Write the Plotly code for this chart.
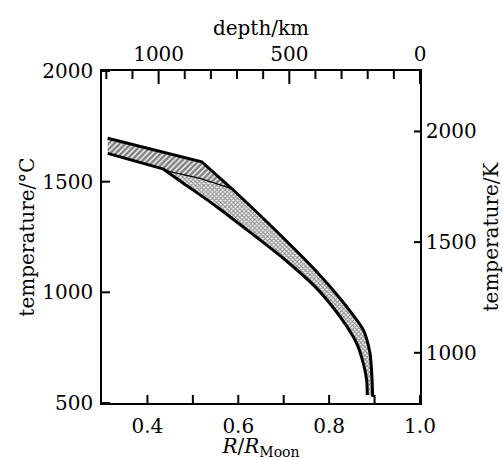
import plotly.graph_objects as go

MOON_RADIUS_KM = 1738.0

# upper envelope (hatched top, then stippled top)
upper_R = [0.3125, 0.5195, 0.5855, 0.6660, 0.7726, 0.8386, 0.8752, 0.8899, 0.8937, 0.8959]
upper_T = [1696, 1590, 1469, 1312, 1093, 935, 830, 725, 634, 528]
# lower envelope (hatched bottom, then stippled bottom)
lower_R = [0.3125, 0.4340, 0.4790, 0.5525, 0.6258, 0.6990, 0.7726, 0.8239, 0.8606, 0.8752, 0.8826, 0.8840]
lower_T = [1628, 1558, 1493, 1387, 1272, 1154, 1018, 890, 770, 679, 604, 536]
# boundary between hatched and stippled regions
div_R = [0.4340, 0.4495, 0.5157, 0.5855]
div_T = [1558, 1545, 1515, 1469]

x_ticks = [0.4, 0.5, 0.6, 0.7, 0.8, 0.9, 1.0]
x_labels = ["0.4", "", "0.6", "", "0.8", "", "1.0"]
y_ticks = [500, 1000, 1500, 2000]
k_ticks = [1000, 1500, 2000]
depth_ticks = [0, 500, 1000]
depth_minor = [100, 200, 300, 400, 600, 700, 800, 900, 1100, 1200]

FONT = "DejaVu Serif"
fig = go.Figure()

# hatched polygon
hx = upper_R[:3] + div_R[::-1][1:] + lower_R[:2][::-1]
hy = upper_T[:3] + div_T[::-1][1:] + lower_T[:2][::-1]
fig.add_trace(go.Scatter(x=hx, y=hy, mode="lines", fill="toself", line=dict(width=0),
                         fillcolor="white",
                         fillpattern=dict(shape="/", size=4, solidity=0.65, fgcolor="black", bgcolor="white"),
                         hoverinfo="skip", showlegend=False))
# stippled polygon
sx = div_R + upper_R[3:] + lower_R[1:][::-1]
sy = div_T + upper_T[3:] + lower_T[1:][::-1]
fig.add_trace(go.Scatter(x=sx, y=sy, mode="lines", fill="toself", line=dict(width=0),
                         fillcolor="white",
                         fillpattern=dict(shape="x", size=3, solidity=0.6, fgcolor="#222", bgcolor="white"),
                         hoverinfo="skip", showlegend=False))

thick = dict(color="black", width=3)
fig.add_trace(go.Scatter(x=upper_R[:3], y=upper_T[:3], mode="lines", line=thick, hoverinfo="skip", showlegend=False))
fig.add_trace(go.Scatter(x=upper_R[2:], y=upper_T[2:], mode="lines",
                         line=dict(color="black", width=3, shape="spline", smoothing=0.7),
                         hoverinfo="skip", showlegend=False))
fig.add_trace(go.Scatter(x=lower_R[:2], y=lower_T[:2], mode="lines", line=thick, hoverinfo="skip", showlegend=False))
fig.add_trace(go.Scatter(x=lower_R[1:], y=lower_T[1:], mode="lines",
                         line=dict(color="black", width=3, shape="spline", smoothing=0.7),
                         hoverinfo="skip", showlegend=False))
fig.add_trace(go.Scatter(x=div_R, y=div_T, mode="lines", line=dict(color="black", width=1.3),
                         hoverinfo="skip", showlegend=False))

# invisible anchor trace for secondary axes (depth / kelvin)
fig.add_trace(go.Scatter(x=[(1 - r) * MOON_RADIUS_KM for r in upper_R],
                         y=[t + 273.15 for t in upper_T],
                         xaxis="x2", yaxis="y2", mode="markers", marker=dict(size=1, opacity=0),
                         hoverinfo="skip", showlegend=False))

# tick marks (pixel-sized shapes placed at the axis tick values)
tick_line = dict(color="black", width=2)
for v in x_ticks:
    fig.add_shape(type="line", xref="x", yref="y domain", ysizemode="pixel", yanchor=0,
                  x0=v, x1=v, y0=0, y1=8, line=tick_line, layer="above")
for v in y_ticks:
    fig.add_shape(type="line", yref="y", xref="x domain", xsizemode="pixel", xanchor=0,
                  y0=v, y1=v, x0=0, x1=8, line=tick_line, layer="above")
for v in depth_ticks:
    fig.add_shape(type="line", xref="x2", yref="y domain", ysizemode="pixel", yanchor=1,
                  x0=v, x1=v, y0=0, y1=-13, line=tick_line, layer="above")
for v in depth_minor:
    fig.add_shape(type="line", xref="x2", yref="y domain", ysizemode="pixel", yanchor=1,
                  x0=v, x1=v, y0=0, y1=-8, line=tick_line, layer="above")
for v in k_ticks:
    fig.add_shape(type="line", yref="y2", xref="x domain", xsizemode="pixel", xanchor=1,
                  y0=v, y1=v, x0=0, x1=-6, line=tick_line, layer="above")

tickfont = dict(family=FONT, size=20, color="black")
titlefont = dict(family=FONT, size=20, color="black")
common = dict(showgrid=False, zeroline=False, showline=True, linecolor="black", linewidth=1.5,
              ticks="", tickfont=tickfont, automargin=False)

fig.update_layout(
    width=503, height=460,
    margin=dict(l=102, r=83, t=71, b=57),
    plot_bgcolor="white", paper_bgcolor="white",
    xaxis=dict(range=[0.3, 1.0], tickmode="array", tickvals=x_ticks, ticktext=x_labels,
               ticklabelstandoff=4,
               title=dict(text="<i>R</i>/<i>R</i><sub>Moon</sub>", font=titlefont, standoff=0),
               **common),
    yaxis=dict(range=[500, 2000], tickmode="array", tickvals=y_ticks, ticklabelstandoff=3,
               title=dict(text="temperature/°C", font=titlefont, standoff=2),
               **common),
    xaxis2=dict(overlaying="x", side="top",
                range=[(1 - 0.3) * MOON_RADIUS_KM, 0.0],
                tickmode="array", tickvals=depth_ticks, ticklabelstandoff=0,
                title=dict(text="depth/km", font=titlefont, standoff=1),
                **common),
    yaxis2=dict(overlaying="y", side="right",
                range=[500 + 273.15, 2000 + 273.15],
                tickmode="array", tickvals=k_ticks, ticklabelstandoff=0,
                title=dict(text="temperature/K", font=titlefont, standoff=12),
                **common),
)

fig.write_html("out.html", config={"displayModeBar": False},
               post_script="document.body.style.margin='0';document.body.style.overflow='hidden';")
